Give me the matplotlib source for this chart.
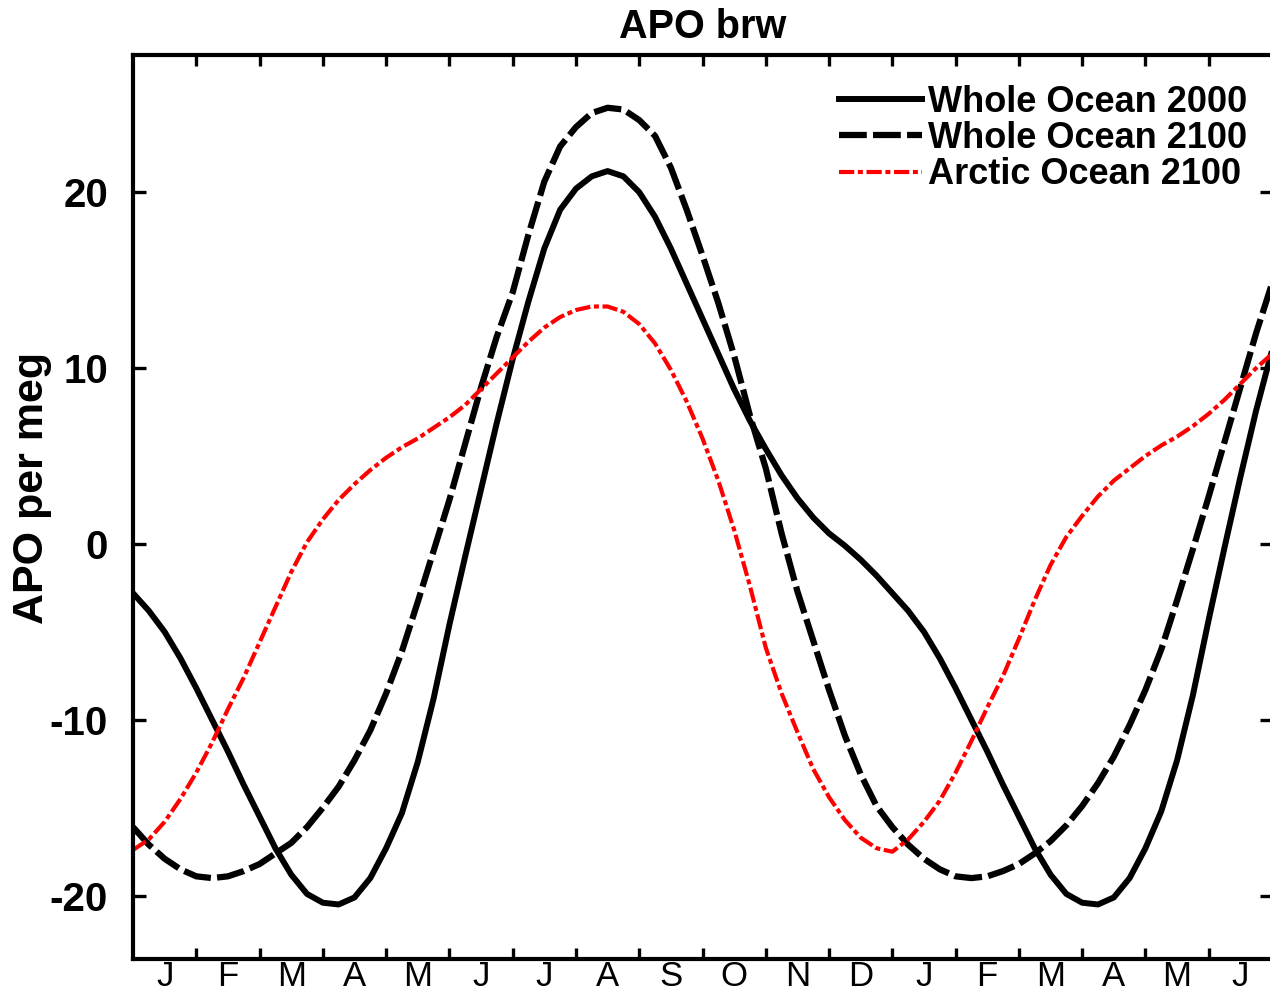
import matplotlib
matplotlib.use("Agg")
import matplotlib.pyplot as plt
import numpy as np

plt.rcParams['font.family'] = ['Liberation Sans', 'DejaVu Sans']
plt.rcParams['lines.scale_dashes'] = False

# months since start of January, quarter-month steps over 18 months
months = np.arange(0, 18.01, 0.25)
month_labels = ["J", "F", "M", "A", "M", "J", "J", "A", "S", "O", "N", "D",
                "J", "F", "M", "A", "M", "J"]

whole_2000 = [-2.8, -3.8, -5.0, -6.5, -8.2, -10.0, -11.8, -13.7, -15.5, -17.3,
              -18.8, -19.9, -20.4, -20.5, -20.1, -19.0, -17.3, -15.3, -12.4, -8.8,
              -4.6, -0.7, 3.1, 6.9, 10.5, 13.8, 16.8, 19.0, 20.2, 20.9,
              21.2, 20.9, 20.0, 18.6, 16.8, 14.8, 12.8, 10.8, 8.8, 7.0,
              5.4, 3.9, 2.6, 1.5, 0.6, -0.1, -0.9, -1.8, -2.8, -3.8,
              -5.0, -6.5, -8.2, -10.0, -11.8, -13.7, -15.5, -17.3, -18.8, -19.9,
              -20.4, -20.5, -20.1, -19.0, -17.3, -15.2, -12.3, -8.6, -4.3, -0.2,
              3.8, 7.6, 11.0]
whole_2100 = [-16.1, -17.1, -17.9, -18.5, -18.9, -19.0, -18.9, -18.6, -18.2, -17.6,
              -17.0, -16.1, -15.0, -13.8, -12.3, -10.6, -8.5, -6.1, -3.3, -0.4,
              2.5, 5.7, 8.9, 11.8, 14.3, 17.6, 20.6, 22.6, 23.7, 24.5,
              24.8, 24.7, 24.1, 23.2, 21.4, 19.0, 16.4, 13.7, 10.7, 7.3,
              4.3, 0.6, -2.7, -5.5, -8.3, -10.9, -13.1, -14.9, -16.1, -17.1,
              -17.9, -18.5, -18.9, -19.0, -18.9, -18.6, -18.2, -17.6, -16.9, -16.0,
              -14.9, -13.6, -12.1, -10.3, -8.3, -6.0, -3.2, -0.3, 2.7, 5.8,
              8.9, 12.0, 14.8]
arctic_2100 = [-17.4, -16.8, -15.8, -14.5, -13.0, -11.3, -9.4, -7.6, -5.6, -3.6,
               -1.6, 0.1, 1.4, 2.5, 3.4, 4.2, 4.9, 5.5, 6.0, 6.6,
               7.2, 7.9, 8.8, 9.7, 10.6, 11.5, 12.3, 12.9, 13.3, 13.5,
               13.5, 13.2, 12.5, 11.4, 9.9, 8.1, 6.0, 3.6, 0.8, -2.4,
               -5.9, -8.5, -10.7, -12.8, -14.4, -15.7, -16.7, -17.3, -17.5, -16.8,
               -15.8, -14.6, -13.0, -11.2, -9.3, -7.5, -5.4, -3.2, -1.2, 0.4,
               1.6, 2.7, 3.6, 4.3, 5.0, 5.6, 6.1, 6.7, 7.4, 8.2,
               9.1, 10.0, 10.8]

fig = plt.figure(figsize=(12.7, 9.91), dpi=100)
ax = fig.add_axes([133/1270, 32/991, 1139/1270, 904/991])

ax.plot(months, whole_2000, color="black", lw=4.3, label="Whole Ocean 2000")
ax.plot(months, whole_2100, color="black", lw=4.5, dashes=(20, 4.5),
        label="Whole Ocean 2100")
ax.plot(months, arctic_2100, color="red", lw=3.0, dashes=(11, 2.6, 3.6, 2.6),
        label="Arctic Ocean 2100")

ax.set_xlim(0, 18)
ax.set_ylim(-23.6, 27.8)

# month boundaries as ticks, labels centred between them
ax.set_xticks(np.arange(1, 18))
ax.set_xticklabels([])
ax.set_xticks(np.arange(0.5, 18, 1), minor=True)
ax.set_xticklabels(month_labels, minor=True, fontsize=25)
ax.tick_params(axis="x", which="major", direction="in", top=True, bottom=True,
               length=8, width=2.4)
ax.tick_params(axis="x", which="minor", length=0, pad=1)

ax.set_yticks([-20, -10, 0, 10, 20])
ax.set_yticklabels(["-20", "-10", "0", "10", "20"], fontsize=29, fontweight="bold")
ax.tick_params(axis="y", direction="in", left=True, right=True, length=9,
               width=2.4, pad=18)

for s in ax.spines.values():
    s.set_linewidth(3.0)

ax.set_ylabel("APO per meg", fontsize=31, fontweight="bold")
ax.yaxis.set_label_coords(-0.071, 0.521)
ax.set_title("APO brw", fontsize=28.5, fontweight="bold", pad=12)

ax.legend(loc="upper right", bbox_to_anchor=(1247/1270, 1 - 85/991),
          bbox_transform=fig.transFigure, frameon=False,
          prop={"size": 26, "weight": "bold"}, handlelength=2.3,
          handletextpad=0.17, labelspacing=0.03, borderpad=0, borderaxespad=0)

fig.savefig("out.png", dpi=100)
